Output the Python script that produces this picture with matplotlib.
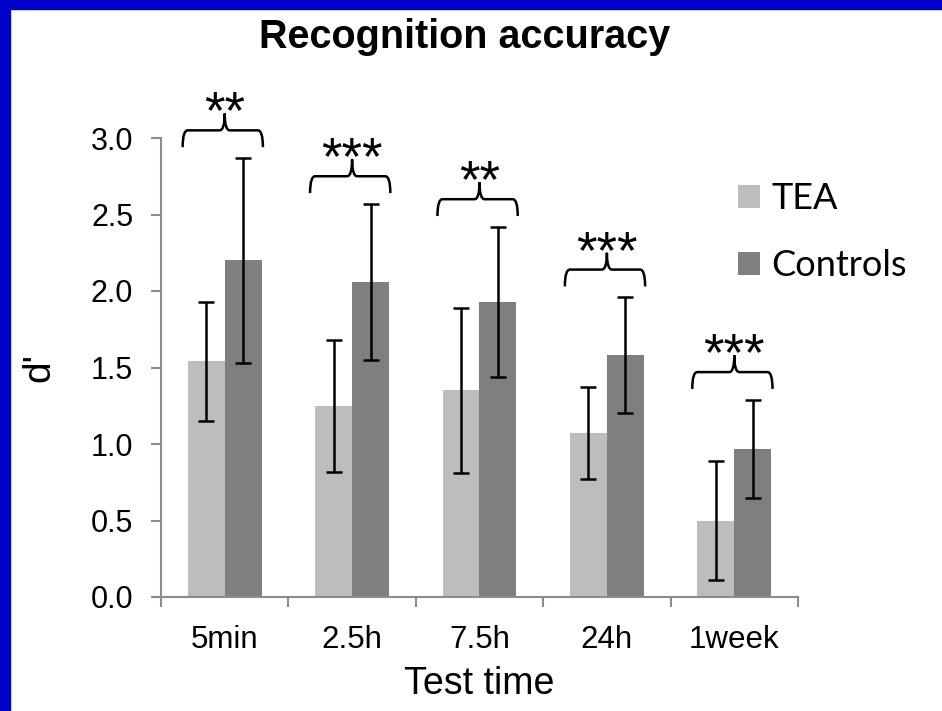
import numpy as np
import matplotlib.pyplot as plt
from matplotlib.path import Path
from matplotlib.patches import PathPatch, Rectangle

# data
times = ['5min', '2.5h', '7.5h', '24h', '1week']
tea = [1.54, 1.25, 1.35, 1.07, 0.50]
tea_err = [0.39, 0.43, 0.54, 0.30, 0.39]
controls = [2.20, 2.06, 1.93, 1.58, 0.97]
controls_err = [0.67, 0.51, 0.49, 0.38, 0.32]
stars = ['**', '***', '**', '***', '***']

fig = plt.figure(figsize=(9.42, 7.11), dpi=100)
fig.patch.set_facecolor('white')

# blue frame on the top and left edges
fig.patches.append(Rectangle((0, 1 - 9 / 711), 1, 9 / 711, transform=fig.transFigure,
                             color='#0000cc', zorder=0))
fig.patches.append(Rectangle((0, 0), 10 / 942, 1, transform=fig.transFigure,
                             color='#0000cc', zorder=0))

ax = fig.add_axes([161 / 942, 114 / 711, 637 / 942, 459 / 711])

x = np.arange(len(times)) + 0.5
w = 0.29
ax.bar(x - w / 2, tea, w, color='#bdbdbd', label='TEA')
ax.bar(x + w / 2, controls, w, color='#7f7f7f', label='Controls')
ax.errorbar(x - w / 2, tea, yerr=tea_err, fmt='none', ecolor='black',
            elinewidth=1.8, capsize=6, capthick=1.8)
ax.errorbar(x + w / 2, controls, yerr=controls_err, fmt='none', ecolor='black',
            elinewidth=1.8, capsize=6, capthick=1.8)

# significance braces above each pair
for xc, c, e, s in zip(x, controls, controls_err, stars):
    y = c + e + 0.18
    x0, x1 = xc - 0.33, xc + 0.30
    d, h = 0.04, 0.11
    verts = [(x0, y - h), (x0, y), (x0 + d, y), (xc - d, y), (xc, y), (xc, y + h),
             (xc, y + h), (xc, y), (xc + d, y), (x1 - d, y), (x1, y), (x1, y - h)]
    codes = [Path.MOVETO, Path.CURVE3, Path.CURVE3, Path.LINETO, Path.CURVE3, Path.CURVE3,
             Path.MOVETO, Path.CURVE3, Path.CURVE3, Path.LINETO, Path.CURVE3, Path.CURVE3]
    ax.add_patch(PathPatch(Path(verts, codes), fill=False, lw=1.8, edgecolor='black',
                           clip_on=False))
    ax.text(xc, y - 0.06, s, ha='center', va='bottom', fontsize=38,
            family='Liberation Sans', clip_on=False)

ax.set_xlim(0, 5)
ax.set_ylim(0, 3)
ax.set_yticks(np.arange(0, 3.01, 0.5))
ax.set_yticklabels([f'{v:.1f}' for v in np.arange(0, 3.01, 0.5)])
ax.set_xticks(np.arange(0, 6))
ax.set_xticklabels([])
ax.set_xticks(x, minor=True)
ax.set_xticklabels(times, minor=True)

for side in ['top', 'right']:
    ax.spines[side].set_visible(False)
for side in ['left', 'bottom']:
    ax.spines[side].set_color('#8c8c8c')
    ax.spines[side].set_linewidth(1.5)

ax.tick_params(axis='both', which='major', color='#8c8c8c', width=1.5, length=7,
               labelsize=22)
ax.tick_params(axis='x', which='minor', length=0, labelsize=22.5, pad=20)
ax.tick_params(axis='y', pad=13)
for lbl in ax.get_xticklabels(minor=True) + ax.get_yticklabels():
    lbl.set_family('Liberation Sans')

ax.set_xlabel('Test time', fontsize=27, family='Liberation Sans', labelpad=8)
ax.set_ylabel("d'", fontsize=28, family='Liberation Sans', labelpad=24)

fig.text(465 / 942, 1 - 37 / 711, 'Recognition accuracy', ha='center', va='center',
         fontsize=28.5, fontweight='bold', family='Liberation Sans')

ax.legend(loc='upper left', bbox_to_anchor=(738 / 942, 1 - 182 / 711),
          bbox_transform=fig.transFigure, frameon=False,
          prop={'family': 'Lato', 'size': 26}, handlelength=0.62, handleheight=0.62,
          handletextpad=0.3, labelspacing=0.95, borderpad=0, borderaxespad=0)

fig.savefig('out.png', dpi=100)
